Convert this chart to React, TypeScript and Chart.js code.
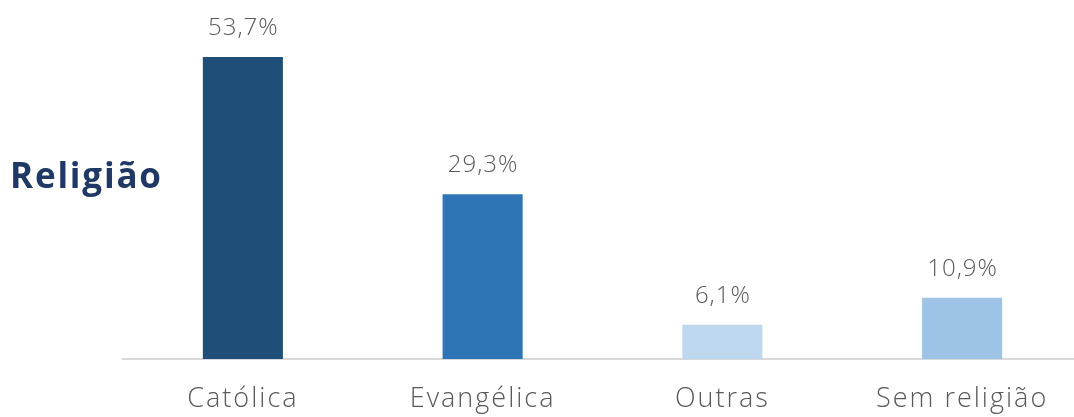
import React, { useEffect, useRef } from "react";
import { Chart, registerables } from "chart.js";

Chart.register(...registerables);

const categories = ["Católica", "Evangélica", "Outras", "Sem religião"];
const values = [53.7, 29.3, 6.1, 10.9];
const valueLabels = ["53,7%", "29,3%", "6,1%", "10,9%"];
const barColors = ["#1f4e79", "#2e75b6", "#bdd7ee", "#9dc3e6"];
const titleText = "Religião";

const FONT = "'Open Sans', Lato, sans-serif";

export default function App() {
  const ref = useRef<HTMLCanvasElement | null>(null);
  useEffect(() => {
    if (!ref.current) return;
    const labelPlugin = {
      id: "valueLabels",
      beforeDraw(chart: any) {
        chart.ctx.letterSpacing = "2px";
      },
      afterDatasetsDraw(chart: any) {
        const ctx = chart.ctx;
        const meta = chart.getDatasetMeta(0);
        ctx.save();
        ctx.fillStyle = "#595959";
        ctx.font = `300 24px ${FONT}`;
        ctx.letterSpacing = "1px";
        ctx.textAlign = "center";
        ctx.textBaseline = "alphabetic";
        meta.data.forEach((bar: any, i: number) => {
          ctx.fillText(valueLabels[i], bar.x + 0.5, bar.y - 22);
        });
        ctx.font = `700 35px ${FONT}`;
        ctx.letterSpacing = "1.8px";
        ctx.fillStyle = "#203864";
        ctx.textAlign = "left";
        ctx.fillText(titleText, 10, 188);
        ctx.restore();
      },
    };
    const chart = new Chart(ref.current, {
      type: "bar",
      data: {
        labels: categories,
        datasets: [
          {
            data: values,
            backgroundColor: barColors,
            borderWidth: 0,
            categoryPercentage: 1,
            barPercentage: 0.334,
          },
        ],
      },
      options: {
        animation: false,
        responsive: false,
        maintainAspectRatio: false,
        layout: { padding: { left: 123, right: 8, top: 21.6, bottom: 0 } },
        plugins: {
          legend: { display: false },
          title: { display: false },
          tooltip: { enabled: false },
        },
        scales: {
          x: {
            grid: { display: false, drawTicks: false },
            border: { display: true, color: "#d9d9d9", width: 2 },
            ticks: {
              color: "#595959",
              font: { family: FONT, size: 27, weight: "300" as any },
              padding: 24,
              maxRotation: 0,
            },
            afterFit(scale: any) {
              scale.height = 58;
            },
          },
          y: {
            display: false,
            min: 0,
            max: 60,
          },
        },
      },
      plugins: [labelPlugin],
    });
    return () => chart.destroy();
  }, []);
  return (
    <div
      style={{
        position: "fixed",
        left: 0,
        top: 0,
        width: 1074,
        height: 417,
        overflow: "hidden",
        background: "#fff",
      }}
    >
      <canvas ref={ref} width={1090} height={417} style={{ width: 1090, height: 417, display: "block" }} />
    </div>
  );
}
